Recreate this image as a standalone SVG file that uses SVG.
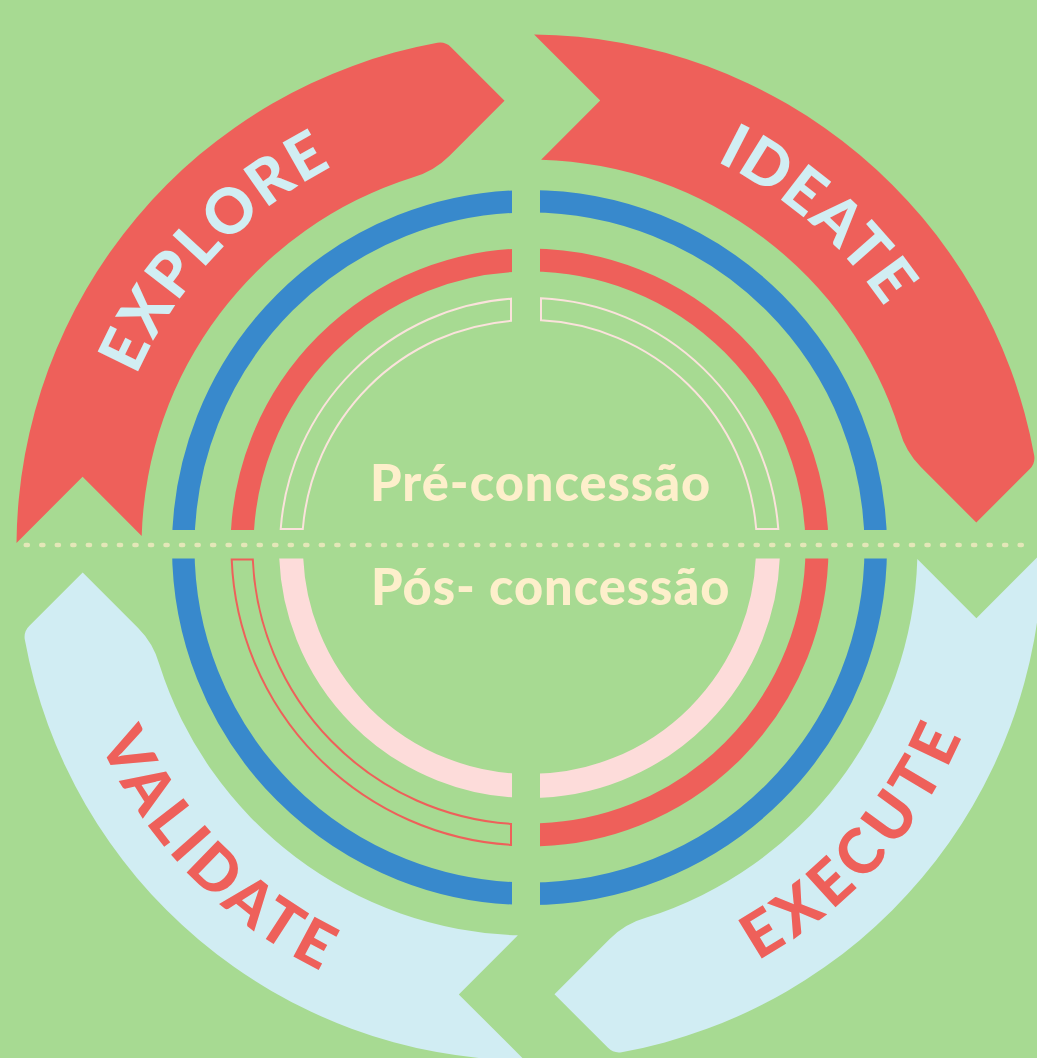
<svg xmlns="http://www.w3.org/2000/svg" width="1037" height="1058" viewBox="0 0 1037 1058">
<defs>
<style>
.bg{fill:#a7da92}
.red{fill:#ee605a}
.lblue{fill:#d1edf3}
.rt{font-family:Lato,"Open Sans","DejaVu Sans",sans-serif;font-weight:900;font-size:62px}
.on-red{fill:#d1eef3}
.on-blue{fill:#ee605a}
.phase{font-family:Lato,"Open Sans","DejaVu Sans",sans-serif;font-weight:900;font-size:50.5px;fill:#fdefcb}
.ring{fill:none}
</style>
<path id="ribbon" d="M 16.5 542.9 A 513 513 0 0 1 437.4 42.8 Q 445.3 41.5 451 47.2 L 504.5 100.7 L 449.3 155.9 Q 433.7 171.5 412.5 177.4 A 388 388 0 0 0 141.7 535.9 L 82.6 476.8 Z"/>
<clipPath id="quads">
<rect x="0" y="0" width="512" height="530"/>
<rect x="540" y="0" width="497" height="530"/>
<rect x="0" y="558.5" width="512" height="500"/>
<rect x="540" y="558.5" width="497" height="500"/>
</clipPath>
<clipPath id="q3">
<rect x="0" y="0" width="512" height="530"/>
<rect x="540" y="0" width="497" height="530"/>
<rect x="540" y="558.5" width="497" height="500"/>
</clipPath>
<clipPath id="qbottom">
<rect x="0" y="558.5" width="512" height="500"/>
<rect x="540" y="558.5" width="497" height="500"/>
</clipPath>
<path id="tp-explore" d="M 118.6 670.8 A 429 429 0 0 1 628.2 130"/>
<path id="tp-ideate" d="M 389.8 141.9 A 429 429 0 0 1 950.6 629.4"/>
<path id="tp-validate" d="M 75.1 419.8 A 472 472 0 0 0 646.1 1004.9"/>
<path id="tp-execute" d="M 431.4 1009.2 A 472 472 0 0 0 978.4 401.7"/>
</defs>

<rect class="bg" x="0" y="0" width="1037" height="1058"/>

<g id="explore">
<use href="#ribbon" class="red"/>
<text class="rt on-red" letter-spacing="3"><textPath href="#tp-explore" startOffset="50%" text-anchor="middle">EXPLORE</textPath></text>
</g>
<g id="ideate">
<use href="#ribbon" class="red" transform="rotate(90 529.5 547.5)"/>
<text class="rt on-red" letter-spacing="2.2"><textPath href="#tp-ideate" startOffset="50%" text-anchor="middle">IDEATE</textPath></text>
</g>
<g id="execute">
<use href="#ribbon" class="lblue" transform="rotate(180 529.5 547.5)"/>
<text class="rt on-blue" letter-spacing="6"><textPath href="#tp-execute" startOffset="50%" text-anchor="middle">EXECUTE</textPath></text>
</g>
<g id="validate">
<use href="#ribbon" class="lblue" transform="rotate(270 529.5 547.5)"/>
<text class="rt on-blue" letter-spacing="4.7"><textPath href="#tp-validate" startOffset="50%" text-anchor="middle">VALIDATE</textPath></text>
</g>

<g id="rings">
<circle class="ring" cx="529.5" cy="547.5" r="346.25" stroke="#3889cc" stroke-width="22.5" clip-path="url(#quads)"/>
<circle class="ring" cx="529.5" cy="547.5" r="287.5" stroke="#ee605a" stroke-width="23" clip-path="url(#q3)"/>
<path class="ring" stroke="#ee605a" stroke-width="2" d="M 231.7 559.5 A 298 298 0 0 0 511 844.9 L 511 823.9 A 277 277 0 0 1 252.8 559.5 Z"/>
<circle class="ring" cx="529.5" cy="547.5" r="238.5" stroke="#fddcda" stroke-width="24" clip-path="url(#qbottom)"/>
<path class="ring" stroke="#fbe2dc" stroke-width="2" d="M 280.7 529 A 249.5 249.5 0 0 1 511 298.7 L 511 320.8 A 227.5 227.5 0 0 0 302.8 529 Z"/>
<path class="ring" stroke="#fbe2dc" stroke-width="2" d="M 541 298.3 A 249.5 249.5 0 0 1 778.3 529 L 756.2 529 A 227.5 227.5 0 0 0 541 320.3 Z"/>
</g>

<line id="divider" x1="25.8" y1="545" x2="1033" y2="545" stroke="#e4e7b8" stroke-width="4.7" stroke-dasharray="2 13.53" stroke-linecap="round"/>

<g id="phase-labels">
<text class="phase" x="370" y="500.7" letter-spacing="1">Pré-concessão</text>
<text class="phase" x="371" y="605" letter-spacing="1">Pós- concessão</text>
</g>
</svg>
